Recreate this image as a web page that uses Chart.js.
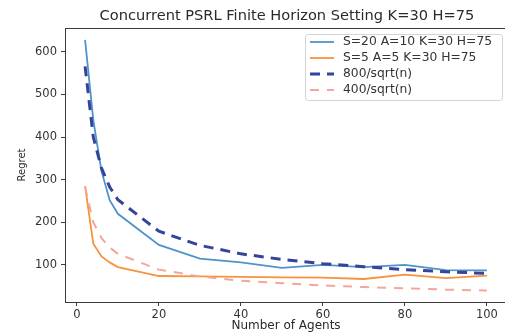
<!DOCTYPE html>
<html>
<head>
<meta charset="utf-8">
<script src="https://cdn.jsdelivr.net/npm/chart.js@4.4.0/dist/chart.umd.min.js"></script>
<style>
  html, body { margin: 0; padding: 0; background: #fff; overflow: hidden; }
  #wrap { width: 510px; height: 335px; }
</style>
</head>
<body>
<div id="wrap"><canvas id="regret"></canvas></div>
<script>
// number of agents
var agents = [2, 4, 6, 8, 10, 20, 30, 40, 50, 60, 70, 80, 90, 100];

// regret
var big = [628, 440, 320, 252, 220, 147, 115, 106, 93, 100, 95, 100, 88, 87];
var small = [285, 150, 120, 106, 95, 74, 73, 72, 71, 70, 67, 77, 69, 75];
var ref800 = [566, 400, 327, 283, 253, 179, 146, 126, 113, 103, 96, 89, 84, 80];
var ref400 = [283, 200, 163, 141, 126, 89, 73, 63, 57, 52, 48, 45, 42, 40];

var labels = ["S=20 A=10 K=30 H=75", "S=5 A=5 K=30 H=75", "800/sqrt(n)", "400/sqrt(n)"];
var xTicks = [0, 20, 40, 60, 80, 100];
var yTicks = [100, 200, 300, 400, 500, 600];

var FONT = "'DejaVu Sans', sans-serif";
var SPINE = "#3a3a3a";

function pts(ys) {
    return agents.map(function (a, i) { return {x: a, y: ys[i]}; });
}

// top spine, title and the boxed legend in the top right corner
var extras = {
    id: "extras",
    afterDraw: function (chart) {
        var c = chart.ctx, a = chart.chartArea;
        c.save();
        c.strokeStyle = SPINE;
        c.lineWidth = 1;
        c.beginPath();
        c.moveTo(a.left, a.top + 0.5);
        c.lineTo(a.right, a.top + 0.5);
        c.stroke();

        c.fillStyle = "#2a2a2a";
        c.font = "14.6px " + FONT;
        c.textAlign = "center";
        c.textBaseline = "middle";
        c.fillText("Concurrent PSRL Finite Horizon Setting K=30 H=75", 287, 16);

        // legend
        var bx = 305.5, by = 34.5, bw = 197, bh = 66;
        c.beginPath();
        c.roundRect(bx, by, bw, bh, 3);
        c.fillStyle = "rgba(255,255,255,0.85)";
        c.fill();
        c.strokeStyle = "#d4d4d4";
        c.stroke();

        c.font = "12.3px " + FONT;
        c.textAlign = "left";
        chart.data.datasets.forEach(function (ds, i) {
            var y = 42 + i * 16;
            c.beginPath();
            c.strokeStyle = ds.borderColor;
            c.lineWidth = ds.borderWidth;
            c.setLineDash(ds.borderDash || []);
            c.moveTo(310, y);
            c.lineTo(334, y);
            c.stroke();
            c.setLineDash([]);
            c.fillStyle = "#333";
            c.fillText(labels[i], 343, y);
        });
        c.restore();
    }
};

new Chart(document.getElementById("regret"), {
    type: "line",
    data: {
        datasets: [
            { data: pts(big), borderColor: "#4f93cb", borderWidth: 1.8, order: 3 },
            { data: pts(small), borderColor: "#f5933f", borderWidth: 1.8, order: 2 },
            { data: pts(ref800), borderColor: "#33449b", borderWidth: 3, borderDash: [10, 7], order: 1 },
            { data: pts(ref400), borderColor: "#f4a69e", borderWidth: 2, borderDash: [9, 8], order: 0 }
        ]
    },
    options: {
        responsive: true,
        maintainAspectRatio: false,
        animation: false,
        devicePixelRatio: 1,
        layout: { padding: { top: 28, left: 0, right: 3, bottom: 0 } },
        elements: {
            point: { radius: 0 },
            line: { tension: 0, fill: false }
        },
        plugins: {
            legend: { display: false },
            title: { display: false },
            tooltip: { enabled: false }
        },
        scales: {
            x: {
                type: "linear",
                min: -2.9,
                max: 104.9,
                afterFit: function (s) { s.height = 33; },
                afterBuildTicks: function (s) {
                    s.ticks = xTicks.map(function (v) { return {value: v}; });
                },
                border: { display: true, color: SPINE, width: 1 },
                grid: { drawOnChartArea: false, drawTicks: true, tickLength: 4, color: SPINE },
                ticks: { color: "#333", font: { family: FONT, size: 11.5 }, padding: 2, maxRotation: 0 },
                title: {
                    display: true,
                    text: "Number of Agents",
                    color: "#2a2a2a",
                    font: { family: FONT, size: 12 },
                    padding: { top: 0, bottom: 2 }
                }
            },
            y: {
                type: "linear",
                min: 13,
                max: 656,
                afterFit: function (s) { s.width = 65; },
                afterBuildTicks: function (s) {
                    s.ticks = yTicks.map(function (v) { return {value: v}; });
                },
                border: { display: true, color: SPINE, width: 1 },
                grid: { drawOnChartArea: false, drawTicks: true, tickLength: 4, color: SPINE },
                ticks: { color: "#333", font: { family: FONT, size: 11.5 }, padding: 4 },
                title: {
                    display: true,
                    text: "Regret",
                    color: "#2a2a2a",
                    font: { family: FONT, size: 10 },
                    padding: { top: 16, bottom: 0 }
                }
            }
        }
    },
    plugins: [extras]
});
</script>
</body>
</html>
